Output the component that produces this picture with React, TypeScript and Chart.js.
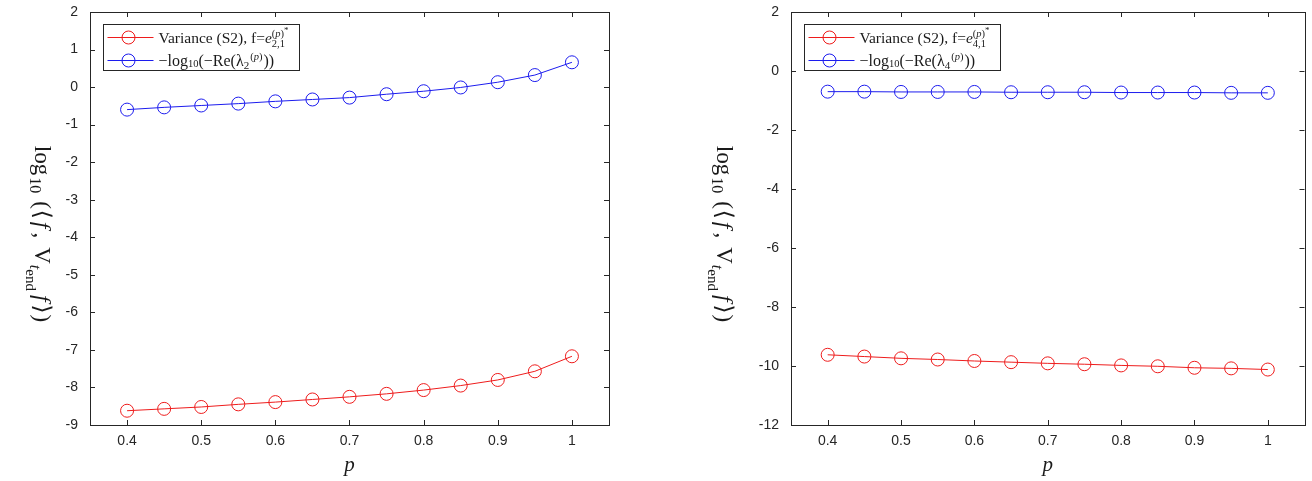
import React, { useEffect, useRef } from "react";
import { Chart, registerables } from "chart.js";

Chart.register(...registerables);

// ---------- data ----------
const pValues = [0.4, 0.45, 0.5, 0.55, 0.6, 0.65, 0.7, 0.75, 0.8, 0.85, 0.9, 0.95, 1.0];
const xTicks = [0.4, 0.5, 0.6, 0.7, 0.8, 0.9, 1];

const leftVariance = [-8.62, -8.57, -8.52, -8.45, -8.39, -8.32, -8.25, -8.17, -8.07, -7.95, -7.8, -7.57, -7.17];
const leftLambda = [-0.6, -0.54, -0.49, -0.44, -0.38, -0.33, -0.28, -0.19, -0.11, -0.01, 0.13, 0.32, 0.66];
const leftYTicks = [2, 1, 0, -1, -2, -3, -4, -5, -6, -7, -8, -9];

const rightVariance = [-9.62, -9.68, -9.74, -9.78, -9.83, -9.87, -9.91, -9.94, -9.98, -10.01, -10.06, -10.08, -10.12];
const rightLambda = [-0.7, -0.7, -0.71, -0.71, -0.71, -0.72, -0.72, -0.72, -0.73, -0.73, -0.73, -0.74, -0.74];
const rightYTicks = [2, 0, -2, -4, -6, -8, -10, -12];

// ---------- styling ----------
const SERIF = "'Liberation Serif', 'DejaVu Serif', serif";
const SANS = "'Liberation Sans', Arial, sans-serif";
const AXIS_COLOR = "#262626";
const RED = "#ee1c1c";
const BLUE = "#1c1cee";

type Seg = { t: string; size: number; dy?: number; italic?: boolean; stack?: boolean; gap?: number };

function drawRich(ctx: CanvasRenderingContext2D, segs: Seg[], x: number, y: number, align: "left" | "center") {
  let cursor = 0;
  let prevStart = 0;
  let maxEnd = 0;
  const starts: number[] = [];
  segs.forEach((s) => {
    ctx.font = `${s.italic ? "italic " : ""}${s.size}px ${SERIF}`;
    const w = ctx.measureText(s.t).width;
    const start = s.stack ? prevStart : cursor + (s.gap || 0);
    starts.push(start);
    cursor = start + w;
    maxEnd = Math.max(maxEnd, cursor);
    prevStart = start;
  });
  const total = maxEnd;
  const x0 = align === "center" ? x - total / 2 : x;
  ctx.textBaseline = "alphabetic";
  ctx.textAlign = "left";
  segs.forEach((s, i) => {
    ctx.font = `${s.italic ? "italic " : ""}${s.size}px ${SERIF}`;
    ctx.fillText(s.t, x0 + starts[i], y + (s.dy || 0));
  });
}

const yLabelSegs: Seg[] = [
  { t: "log", size: 23 },
  { t: "10", size: 16, dy: 5, gap: 2 },
  { t: "(", size: 23, gap: 8 },
  { t: "\u27E8", size: 23, gap: 1 },
  { t: "f", size: 24, italic: true, gap: 3 },
  { t: ",", size: 23, gap: 4 },
  { t: "V", size: 23, gap: 9 },
  { t: "t", size: 16, dy: 5, italic: true, gap: 1 },
  { t: "end", size: 15, dy: 9 },
  { t: "f", size: 24, italic: true, gap: 4 },
  { t: "\u27E9", size: 23, gap: 3 },
  { t: ")", size: 23, gap: 1 },
];

function legendRows(idx: string): Seg[][] {
  return [
    [
      { t: "Variance (S2), f=", size: 15.5 },
      { t: "e", size: 15.5, italic: true },
      { t: `${idx},1`, size: 10.5, dy: 4 },
      { t: "(", size: 10.5, dy: -6, stack: true },
      { t: "p", size: 10.5, dy: -6, italic: true },
      { t: ")", size: 10.5, dy: -6 },
      { t: "*", size: 9, dy: -10 },
    ],
    [
      { t: "\u2212log", size: 16 },
      { t: "10", size: 10.5, dy: 1 },
      { t: "(\u2212Re(\u03BB", size: 16 },
      { t: idx, size: 11, dy: 3 },
      { t: "(", size: 10.5, dy: -6, gap: 1 },
      { t: "p", size: 10.5, dy: -6, italic: true },
      { t: ")", size: 10.5, dy: -6 },
      { t: "))", size: 16, gap: 1 },
    ],
  ];
}

type PanelCfg = {
  variance: number[];
  lambda: number[];
  yTicks: number[];
  yMin: number;
  yMax: number;
  yWidth: number;
  padRight: number;
  yLabelX: number;
  idx: string;
};

function makeDecorPlugin(cfg: PanelCfg) {
  return {
    id: "decor",
    afterDraw(chart: any) {
      const ctx: CanvasRenderingContext2D = chart.ctx;
      const a = chart.chartArea;
      const xs = chart.scales.x;
      const ys = chart.scales.y;
      ctx.save();
      ctx.strokeStyle = AXIS_COLOR;
      ctx.lineWidth = 1;
      ctx.strokeRect(Math.round(a.left) + 0.5, Math.round(a.top) + 0.5, Math.round(a.right - a.left), Math.round(a.bottom - a.top));
      const tl = 5;
      ctx.beginPath();
      xTicks.forEach((v) => {
        const px = Math.round(xs.getPixelForValue(v)) + 0.5;
        ctx.moveTo(px, a.bottom);
        ctx.lineTo(px, a.bottom - tl);
        ctx.moveTo(px, a.top);
        ctx.lineTo(px, a.top + tl);
      });
      cfg.yTicks.forEach((v) => {
        const py = Math.round(ys.getPixelForValue(v)) + 0.5;
        ctx.moveTo(a.left, py);
        ctx.lineTo(a.left + tl, py);
        ctx.moveTo(a.right, py);
        ctx.lineTo(a.right - tl, py);
      });
      ctx.stroke();

      // legend
      const bx = Math.round(a.left) + 13.5;
      const by = Math.round(a.top) + 12.5;
      const bw = 196;
      const bh = 46;
      ctx.fillStyle = "#ffffff";
      ctx.fillRect(bx, by, bw, bh);
      ctx.strokeStyle = AXIS_COLOR;
      ctx.strokeRect(bx, by, bw, bh);
      const rows = legendRows(cfg.idx);
      const colors = [RED, BLUE];
      rows.forEach((segs, i) => {
        const ry = by + 13 + i * 23;
        ctx.strokeStyle = colors[i];
        ctx.lineWidth = 1;
        ctx.beginPath();
        ctx.moveTo(bx + 4, ry);
        ctx.lineTo(bx + 50, ry);
        ctx.stroke();
        ctx.beginPath();
        ctx.arc(bx + 25, ry, 6.5, 0, Math.PI * 2);
        ctx.stroke();
        ctx.fillStyle = "#1a1a1a";
        drawRich(ctx, segs, bx + 55, ry + 5, "left");
      });

      // y label (rotated clockwise, reading top to bottom)
      ctx.fillStyle = "#1a1a1a";
      ctx.save();
      ctx.translate(cfg.yLabelX, 234);
      ctx.rotate(Math.PI / 2);
      drawRich(ctx, yLabelSegs, 0, 0, "center");
      ctx.restore();

      // x label
      drawRich(ctx, [{ t: "p", size: 21, italic: true }], (a.left + a.right) / 2, 471, "center");
      ctx.restore();
    },
  };
}

function buildChart(canvas: HTMLCanvasElement, cfg: PanelCfg) {
  const tickFont = { family: SANS, size: 14 };
  return new Chart(canvas, {
    type: "scatter",
    data: {
      datasets: [
        {
          label: "variance",
          data: pValues.map((p, i) => ({ x: p, y: cfg.variance[i] })),
          borderColor: RED,
          backgroundColor: "rgba(0,0,0,0)",
          pointBorderColor: RED,
          pointBackgroundColor: "rgba(0,0,0,0)",
          pointRadius: 6.5,
          pointBorderWidth: 1,
          borderWidth: 1,
          showLine: true,
        },
        {
          label: "lambda",
          data: pValues.map((p, i) => ({ x: p, y: cfg.lambda[i] })),
          borderColor: BLUE,
          backgroundColor: "rgba(0,0,0,0)",
          pointBorderColor: BLUE,
          pointBackgroundColor: "rgba(0,0,0,0)",
          pointRadius: 6.5,
          pointBorderWidth: 1,
          borderWidth: 1,
          showLine: true,
        },
      ],
    },
    options: {
      animation: false,
      responsive: false,
      devicePixelRatio: 1,
      layout: { padding: { left: 0, right: cfg.padRight, top: 12, bottom: 0 } },
      plugins: { legend: { display: false }, tooltip: { enabled: false } },
      scales: {
        x: {
          type: "linear",
          min: 0.35,
          max: 1.05,
          afterBuildTicks: (s: any) => {
            s.ticks = xTicks.map((v) => ({ value: v }));
          },
          afterFit: (s: any) => {
            s.height = 56;
            s.paddingLeft = 0;
            s.paddingRight = 0;
          },
          grid: { display: false, drawTicks: false },
          border: { display: false },
          ticks: {
            padding: 8,
            font: tickFont,
            color: AXIS_COLOR,
            maxRotation: 0,
            autoSkip: false,
            callback: (v: any) => String(v),
          },
        },
        y: {
          type: "linear",
          min: cfg.yMin,
          max: cfg.yMax,
          afterBuildTicks: (s: any) => {
            s.ticks = cfg.yTicks.map((v) => ({ value: v }));
          },
          afterFit: (s: any) => {
            s.width = cfg.yWidth;
            s.paddingTop = 0;
            s.paddingBottom = 0;
          },
          grid: { display: false, drawTicks: false },
          border: { display: false },
          ticks: {
            padding: 12,
            font: tickFont,
            color: AXIS_COLOR,
            autoSkip: false,
            callback: (v: any) => String(v),
          },
        },
      },
    } as any,
    plugins: [makeDecorPlugin(cfg)],
  });
}

const leftCfg: PanelCfg = {
  variance: leftVariance,
  lambda: leftLambda,
  yTicks: leftYTicks,
  yMin: -9,
  yMax: 2,
  yWidth: 90,
  padRight: 47,
  yLabelX: 35,
  idx: "2",
};

const rightCfg: PanelCfg = {
  variance: rightVariance,
  lambda: rightLambda,
  yTicks: rightYTicks,
  yMin: -12,
  yMax: 2,
  yWidth: 135,
  padRight: 3,
  yLabelX: 717 - 656,
  idx: "4",
};

export default function App() {
  const leftRef = useRef<HTMLCanvasElement>(null);
  const rightRef = useRef<HTMLCanvasElement>(null);

  useEffect(() => {
    const c1 = buildChart(leftRef.current!, leftCfg);
    const c2 = buildChart(rightRef.current!, rightCfg);
    return () => {
      c1.destroy();
      c2.destroy();
    };
  }, []);

  return (
    <div style={{ position: "absolute", left: 0, top: 0, width: 1312, height: 481, background: "#fff" }}>
      <canvas ref={leftRef} width={656} height={481} style={{ position: "absolute", left: 0, top: 0, width: 656, height: 481 }} />
      <canvas ref={rightRef} width={656} height={481} style={{ position: "absolute", left: 656, top: 0, width: 656, height: 481 }} />
    </div>
  );
}
